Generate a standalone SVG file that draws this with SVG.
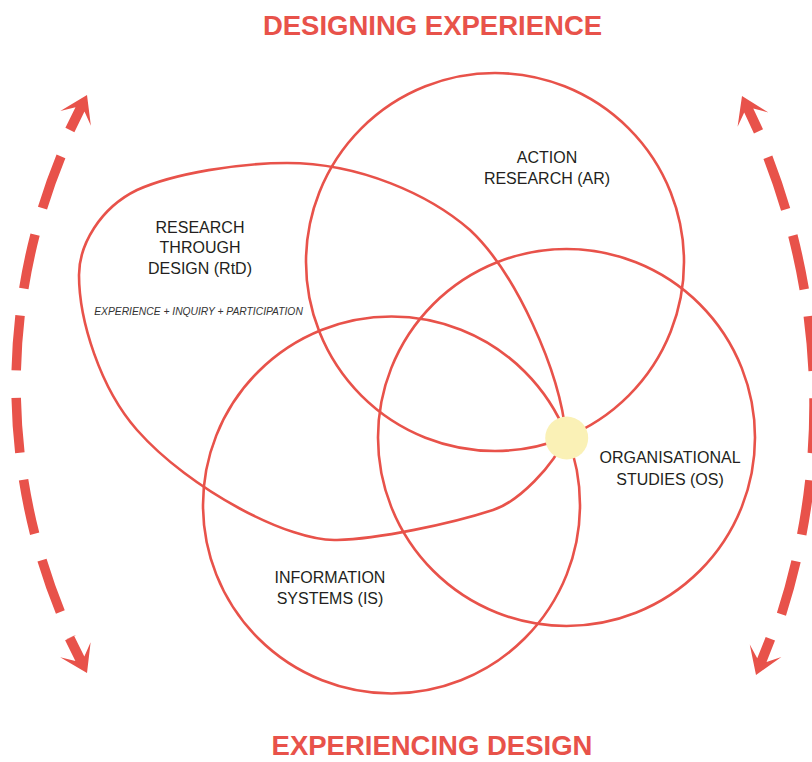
<svg xmlns="http://www.w3.org/2000/svg" width="812" height="762" viewBox="0 0 812 762">
<defs>
<style>
.shape{fill:none;stroke:#E8524A;stroke-width:2.6}
.lbl{font-family:"Liberation Sans",Arial,sans-serif;font-size:16px;fill:#231F20;text-anchor:middle}
.sub{font-family:"Liberation Sans",Arial,sans-serif;font-size:10.3px;font-style:italic;fill:#333;text-anchor:middle}
.title{font-family:"Liberation Sans",Arial,sans-serif;font-size:27.5px;font-weight:bold;fill:#E8524A;text-anchor:middle}
.dash{fill:none;stroke:#E8524A;stroke-width:9.5;stroke-linecap:butt}
.head{fill:#E8524A}
</style>
<path id="ah" d="M0,0 L-26,-17 L-16,-5 L-39,-5 L-39,5 L-16,5 L-26,17 Z"/>
</defs>
<rect width="812" height="762" fill="#ffffff"/>

<text class="title" x="432.5" y="35">DESIGNING EXPERIENCE</text>
<text class="title" x="432" y="755">EXPERIENCING DESIGN</text>

<g id="connectors">
<path class="dash" d="M71.9,131.3 A604,604 0 0 0 71.3,637.3" stroke-dasharray="55 27.4" stroke-dashoffset="55"/>
<path class="dash" d="M757.6,132.1 A688,688 0 0 1 772.7,639.9" stroke-dasharray="55 27.2" stroke-dashoffset="55"/>
<use href="#ah" class="head" transform="translate(87,95) rotate(-64)"/>
<use href="#ah" class="head" transform="translate(742,96) rotate(-115)"/>
<use href="#ah" class="head" transform="translate(756,675) rotate(111.6)"/>
<use href="#ah" class="head" transform="translate(87,673) rotate(63.5)"/>
</g>

<g id="node-ar">
<circle class="shape" cx="495" cy="262" r="189"/>
<text class="lbl" x="547" y="163">ACTION</text>
<text class="lbl" x="547" y="184">RESEARCH (AR)</text>
</g>

<g id="node-os">
<circle class="shape" cx="566.5" cy="437.5" r="188.5"/>
<text class="lbl" x="670" y="463">ORGANISATIONAL</text>
<text class="lbl" x="670" y="485">STUDIES (OS)</text>
</g>

<g id="node-is">
<circle class="shape" cx="391.5" cy="505" r="188.5"/>
<text class="lbl" x="330" y="583">INFORMATION</text>
<text class="lbl" x="330" y="604">SYSTEMS (IS)</text>
</g>

<g id="node-rtd">
<path class="shape" d="M566,436 C554,466 518,502 493,510 C450,524 378,539 337,540 C290,542 190,490 137,430 C100,388 79,320 79,275 C79,245 100,208 137,190 C175,173 240,163 287,163 C360,163 430,195 470,230 C515,272 560,370 566,436 Z"/>
<text class="lbl" x="200" y="233">RESEARCH</text>
<text class="lbl" x="200" y="253">THROUGH</text>
<text class="lbl" x="200" y="274">DESIGN (RtD)</text>
<text class="sub" x="198.5" y="315">EXPERIENCE + INQUIRY + PARTICIPATION</text>
</g>

<g id="node-center">
<circle cx="566.7" cy="438" r="21.5" fill="#FAF1B6"/>
</g>
</svg>
